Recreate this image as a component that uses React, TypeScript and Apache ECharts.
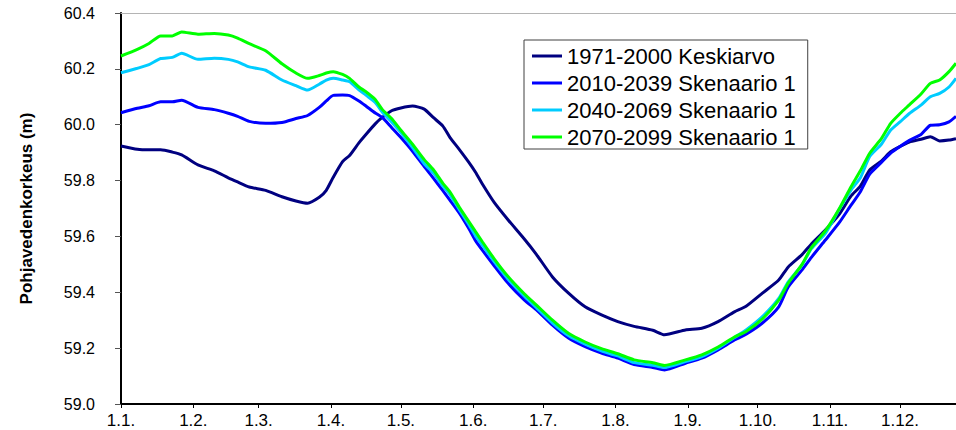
import React, { useEffect, useRef } from "react";
import * as echarts from "echarts";

// Day of year (0 = 1 January)
const days = [0, 7, 12, 17, 22, 26, 33, 40, 46, 50, 55, 62, 69, 75, 80, 85, 88, 91, 95, 98, 102, 105, 109, 112, 116, 120, 125, 130, 134, 138, 141, 145, 149, 152, 155, 160, 166, 173, 178, 185, 192, 199, 206, 213, 220, 228, 233, 242, 249, 256, 263, 268, 275, 282, 286, 292, 296, 302, 308, 313, 317, 321, 326, 330, 334, 338, 343, 347, 351, 355, 358];

const monthStarts = [0, 31, 59, 90, 120, 151, 181, 212, 243, 273, 304, 334];
const monthLabels = ["1.1.", "1.2.", "1.3.", "1.4.", "1.5.", "1.6.", "1.7.", "1.8.", "1.9.", "1.10.", "1.11.", "1.12."];

const seriesNames = ["1971-2000 Keskiarvo", "2010-2039 Skenaario 1", "2040-2069 Skenaario 1", "2070-2099 Skenaario 1"];
const seriesColors = ["#000080", "#0000FF", "#00CCFF", "#00FF00"];

const keskiarvo = [59.924, 59.912, 59.910, 59.910, 59.902, 59.892, 59.856, 59.835, 59.810, 59.795, 59.777, 59.765, 59.742, 59.727, 59.719, 59.740, 59.765, 59.812, 59.868, 59.890, 59.935, 59.965, 60.003, 60.026, 60.050, 60.060, 60.067, 60.056, 60.025, 59.995, 59.955, 59.912, 59.867, 59.830, 59.787, 59.722, 59.659, 59.590, 59.537, 59.455, 59.396, 59.348, 59.319, 59.295, 59.278, 59.264, 59.248, 59.265, 59.271, 59.295, 59.330, 59.350, 59.397, 59.444, 59.490, 59.535, 59.573, 59.623, 59.680, 59.745, 59.780, 59.838, 59.870, 59.903, 59.922, 59.938, 59.948, 59.957, 59.942, 59.945, 59.950];

const skenaario2010 = [60.043, 60.059, 60.068, 60.082, 60.082, 60.088, 60.062, 60.054, 60.041, 60.030, 60.012, 60.005, 60.008, 60.022, 60.033, 60.062, 60.085, 60.105, 60.106, 60.104, 60.085, 60.067, 60.042, 60.026, 59.990, 59.954, 59.905, 59.850, 59.808, 59.764, 59.730, 59.684, 59.630, 59.585, 59.550, 59.495, 59.432, 59.372, 59.338, 59.282, 59.235, 59.205, 59.182, 59.164, 59.141, 59.131, 59.122, 59.146, 59.164, 59.194, 59.229, 59.250, 59.290, 59.348, 59.418, 59.480, 59.525, 59.587, 59.650, 59.712, 59.760, 59.823, 59.865, 59.898, 59.922, 59.944, 59.965, 59.998, 60.000, 60.010, 60.030];

const skenaario2040 = [60.186, 60.202, 60.215, 60.237, 60.241, 60.256, 60.234, 60.238, 60.234, 60.225, 60.207, 60.195, 60.160, 60.140, 60.124, 60.145, 60.160, 60.166, 60.160, 60.154, 60.125, 60.106, 60.080, 60.045, 60.010, 59.972, 59.918, 59.860, 59.826, 59.780, 59.750, 59.697, 59.645, 59.602, 59.568, 59.510, 59.447, 59.386, 59.346, 59.290, 59.244, 59.214, 59.190, 59.172, 59.148, 59.139, 59.131, 59.152, 59.170, 59.200, 59.238, 59.265, 59.313, 59.378, 59.436, 59.498, 59.556, 59.611, 59.698, 59.766, 59.810, 59.886, 59.930, 59.981, 60.010, 60.040, 60.070, 60.100, 60.112, 60.135, 60.166];

const skenaario2070 = [60.246, 60.270, 60.291, 60.318, 60.318, 60.332, 60.324, 60.327, 60.321, 60.310, 60.290, 60.265, 60.218, 60.185, 60.166, 60.176, 60.185, 60.190, 60.180, 60.166, 60.135, 60.118, 60.090, 60.055, 60.022, 59.980, 59.930, 59.875, 59.838, 59.790, 59.760, 59.705, 59.655, 59.617, 59.580, 59.520, 59.456, 59.394, 59.355, 59.300, 59.252, 59.222, 59.198, 59.180, 59.158, 59.148, 59.138, 59.158, 59.176, 59.204, 59.240, 59.260, 59.305, 59.372, 59.432, 59.500, 59.560, 59.620, 59.700, 59.778, 59.835, 59.898, 59.950, 60.005, 60.040, 60.071, 60.110, 60.148, 60.160, 60.190, 60.220];

const allValues = [keskiarvo, skenaario2010, skenaario2040, skenaario2070];

const FONT = "'Liberation Sans', Arial, sans-serif";

export default function App() {
  const ref = useRef<HTMLDivElement>(null);

  useEffect(() => {
    if (!ref.current) return;
    const chart = echarts.init(ref.current, undefined, { renderer: "svg" });
    const series = allValues.map((vals, si) => ({
      name: seriesNames[si],
      type: "line",
      data: days.map((d, i) => [d, vals[i]]),
      showSymbol: false,
      smooth: 0.2,
      lineStyle: { color: seriesColors[si], width: 3 },
      itemStyle: { color: seriesColors[si] },
    }));

    chart.setOption({
      animation: false,
      backgroundColor: "#ffffff",
      textStyle: { fontFamily: FONT },
      grid: { left: 121, right: 0, top: 13, bottom: 26, containLabel: false },
      legend: {
        orient: "vertical",
        left: 524,
        top: 40,
        padding: [5, 12, 1, 8],
        itemGap: 5,
        itemWidth: 30,
        itemHeight: 3,
        icon: "rect",
        borderColor: "#404040",
        borderWidth: 1,
        backgroundColor: "#ffffff",
        textStyle: { fontSize: 22, color: "#000", fontFamily: FONT, lineHeight: 20 },
        data: seriesNames,
      },
      xAxis: [
        {
          type: "value",
          min: 0,
          max: 358,
          axisLine: { show: true, onZero: false, lineStyle: { color: "#000", width: 2 } },
          axisTick: { show: true, length: 4, customValues: monthStarts, lineStyle: { color: "#000" } },
          axisLabel: {
            customValues: monthStarts,
            formatter: (v: number) => monthLabels[monthStarts.indexOf(v)] ?? "",
            fontSize: 17,
            color: "#000",
            margin: 8,
            fontFamily: FONT,
          },
          splitLine: { show: false },
        },
        {
          type: "value",
          position: "top",
          min: 0,
          max: 358,
          axisLine: { show: true, onZero: false, lineStyle: { color: "#b4b4b4", width: 1 } },
          axisTick: { show: false },
          axisLabel: { show: false },
          splitLine: { show: false },
        },
      ],
      yAxis: {
        type: "value",
        min: 59.0,
        max: 60.4,
        interval: 0.2,
        name: "Pohjavedenkorkeus (m)",
        nameLocation: "middle",
        nameGap: 86,
        nameTextStyle: { fontSize: 17, fontWeight: "bold", color: "#000", fontFamily: FONT },
        axisLine: { show: true, lineStyle: { color: "#000", width: 2 } },
        axisTick: { show: true, inside: false, length: 6, lineStyle: { color: "#555" } },
        axisLabel: {
          formatter: (v: number) => v.toFixed(1),
          fontSize: 16,
          color: "#000",
          margin: 26,
          fontFamily: FONT,
        },
        splitLine: { show: false },
      },
      series,
    });

    return () => chart.dispose();
  }, []);

  return (
    <div
      ref={ref}
      style={{ position: "fixed", left: 0, top: 0, width: 956, height: 430 }}
    />
  );
}
